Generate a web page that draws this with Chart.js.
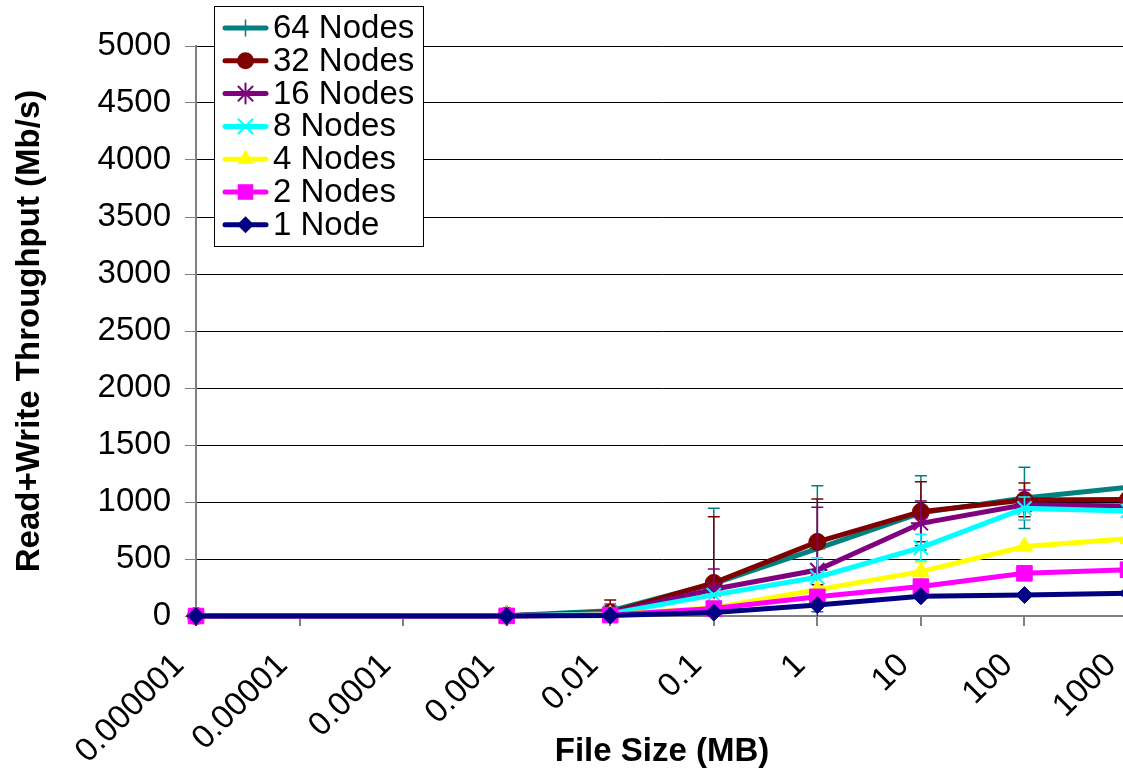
<!DOCTYPE html>
<html>
<head>
<meta charset="utf-8">
<script src="https://cdn.jsdelivr.net/npm/chart.js@4.4.1/dist/chart.umd.min.js"></script>
<style>
html,body{margin:0;padding:0;background:#fff;overflow:hidden;width:1123px;height:775px;}
canvas{display:block;}
</style>
</head>
<body>
<canvas id="c" width="1140" height="775"></canvas>
<script>
// ---- data ----
const fileSizes = [0.000001, 0.001, 0.01, 0.1, 1, 10, 100, 1000];
const xTickValues = [0.000001, 0.00001, 0.0001, 0.001, 0.01, 0.1, 1, 10, 100, 1000];
const xTickLabels = ['0.000001', '0.00001', '0.0001', '0.001', '0.01', '0.1', '1', '10', '100', '1000'];
const yTickValues = [0, 500, 1000, 1500, 2000, 2500, 3000, 3500, 4000, 4500, 5000];
const yTickLabels = ['0', '500', '1000', '1500', '2000', '2500', '3000', '3500', '4000', '4500', '5000'];

const seriesLabels = ['64 Nodes', '32 Nodes', '16 Nodes', '8 Nodes', '4 Nodes', '2 Nodes', '1 Node'];
const nodes64 = [0, 3, 45, 285, 590, 905, 1036, 1130];
const nodes32 = [0, 3, 30, 290, 650, 915, 1018, 1022];
const nodes16 = [0, 2, 25, 235, 403, 813, 975, 965];
const nodes8  = [0, 2, 20, 185, 340, 600, 944, 922];
const nodes4  = [0, 1, 12, 72, 230, 389, 610, 678];
const nodes2  = [0, 1, 8, 65, 168, 258, 374, 406];
const nodes1  = [0, 1, 4, 30, 96, 173, 184, 200];

const err64 = [0, 0, 60, 660, 553, 326, 268, 0];
const err32 = [0, 0, 110, 581, 376, 263, 148, 0];
const err16 = [0, 0, 40, 177, 550, 196, 130, 0];
const err8  = [0, 0, 30, 0, 170, 118, 100, 0];
const err4  = [0, 0, 0, 0, 0, 75, 0, 0];
const err2  = [0, 0, 0, 0, 0, 0, 0, 0];
const err1  = [0, 0, 0, 0, 0, 0, 0, 0];

// ---- styles ----
const FONT = "'Liberation Sans', Arial, sans-serif";
const FS = 33;
const styles = [
  {color:'#008080', point:'cross',    r:8,   bw:1.5},
  {color:'#800000', point:'circle',   r:8.5, bw:1},
  {color:'#800080', point:'star',     r:10,  bw:2},
  {color:'#00FFFF', point:'crossRot', r:10,  bw:2},
  {color:'#FFFF00', point:'triangle', r:9.5, bw:1},
  {color:'#FF00FF', point:'rect',     r:11,  bw:1},
  {color:'#000080', point:'rectRot',  r:8.5, bw:1}
];
const seriesValues = [nodes64, nodes32, nodes16, nodes8, nodes4, nodes2, nodes1];
const seriesErrors = [err64, err32, err16, err8, err4, err2, err1];

const datasets = seriesLabels.map((lab, i) => ({
  label: lab,
  data: fileSizes.map((x, j) => ({x: x, y: seriesValues[i][j]})),
  errors: seriesErrors[i],
  borderColor: styles[i].color,
  backgroundColor: styles[i].color,
  pointBackgroundColor: styles[i].color,
  pointBorderColor: styles[i].color,
  pointStyle: styles[i].point,
  pointRadius: styles[i].r,
  pointBorderWidth: styles[i].bw,
  borderWidth: 5,
  tension: 0,
  clip: false,
  order: 6 - i   // 1 Node drawn on top, 64 Nodes at the bottom
}));

function drawMarker(ctx, style, r, bw, color, x, y) {
  ctx.save();
  ctx.fillStyle = color; ctx.strokeStyle = color; ctx.lineWidth = bw;
  ctx.beginPath();
  if (style === 'circle') { ctx.arc(x, y, r, 0, Math.PI * 2); ctx.fill(); }
  else if (style === 'rect') { const s = r * Math.SQRT1_2; ctx.rect(x - s, y - s, 2 * s, 2 * s); ctx.fill(); }
  else if (style === 'rectRot') { ctx.moveTo(x, y - r); ctx.lineTo(x + r, y); ctx.lineTo(x, y + r); ctx.lineTo(x - r, y); ctx.closePath(); ctx.fill(); }
  else if (style === 'triangle') {
    ctx.moveTo(x, y - r); ctx.lineTo(x + r * 0.866, y + r * 0.5); ctx.lineTo(x - r * 0.866, y + r * 0.5); ctx.closePath(); ctx.fill();
  } else {
    const lines = [];
    if (style === 'cross' || style === 'star') { lines.push([0, -r, 0, r], [-r, 0, r, 0]); }
    if (style === 'crossRot' || style === 'star') { const d = r * Math.SQRT1_2; lines.push([-d, -d, d, d], [-d, d, d, -d]); }
    lines.forEach(l => { ctx.moveTo(x + l[0], y + l[1]); ctx.lineTo(x + l[2], y + l[3]); });
    ctx.stroke();
  }
  ctx.restore();
}

const errorBarPlugin = {
  id: 'errorBars',
  beforeDatasetDraw(chart, args) {
    const ds = chart.data.datasets[args.index];
    if (!ds.errors) return;
    const xs = chart.scales.x, ys = chart.scales.y, ctx = chart.ctx;
    const area = chart.chartArea;
    ctx.save();
    ctx.beginPath(); ctx.rect(area.left, area.top, area.right - area.left, area.bottom - area.top); ctx.clip();
    ctx.strokeStyle = ds.borderColor; ctx.lineWidth = 1.5;
    ds.data.forEach((p, j) => {
      const e = ds.errors[j];
      if (!e) return;
      const px = xs.getPixelForValue(p.x);
      const top = ys.getPixelForValue(p.y + e);
      const lowVal = p.y - e;
      const bot = ys.getPixelForValue(Math.max(lowVal, 0));
      ctx.beginPath();
      ctx.moveTo(px, top); ctx.lineTo(px, bot);
      ctx.moveTo(px - 6, top); ctx.lineTo(px + 6, top);
      if (lowVal > 0) { ctx.moveTo(px - 6, bot); ctx.lineTo(px + 6, bot); }
      ctx.stroke();
    });
    ctx.restore();
  }
};

const legendPlugin = {
  id: 'boxLegend',
  afterDraw(chart) {
    const ctx = chart.ctx;
    const bx = 214.5, by = 6.5, bw = 209, bh = 240;
    ctx.save();
    ctx.fillStyle = '#fff';
    ctx.fillRect(bx, by, bw, bh);
    ctx.strokeStyle = '#000'; ctx.lineWidth = 1;
    ctx.strokeRect(bx, by, bw, bh);
    ctx.font = FS + 'px ' + FONT;
    ctx.textBaseline = 'middle';
    ctx.textAlign = 'left';
    chart.data.datasets.forEach((ds, i) => {
      const cy = 28 + i * 32.8;
      ctx.strokeStyle = ds.borderColor; ctx.lineWidth = 5; ctx.lineCap = 'round';
      ctx.beginPath(); ctx.moveTo(225, cy); ctx.lineTo(266, cy); ctx.stroke();
      drawMarker(ctx, ds.pointStyle, ds.pointRadius, ds.pointBorderWidth, ds.borderColor, 245.5, cy);
      ctx.fillStyle = '#000';
      ctx.fillText(ds.label, 273, cy + 1);
    });
    ctx.restore();
  }
};

new Chart(document.getElementById('c'), {
  type: 'line',
  data: { datasets: datasets },
  plugins: [errorBarPlugin, legendPlugin],
  options: {
    responsive: false,
    animation: false,
    devicePixelRatio: 1,
    layout: { padding: { top: 46, right: 9, left: 0, bottom: 0 } },
    plugins: { legend: { display: false }, tooltip: { enabled: false } },
    scales: {
      x: {
        type: 'logarithmic',
        min: 0.000001,
        max: 1000,
        afterBuildTicks(scale) { scale.ticks = xTickValues.map(v => ({ value: v })); },
        afterFit(scale) { scale.height = 159; scale.paddingLeft = 0; scale.paddingRight = 0; },
        ticks: {
          autoSkip: false,
          minRotation: 45,
          maxRotation: 45,
          padding: 20,
          labelOffset: -17,
          color: '#000',
          font: { family: FONT, size: FS },
          callback: (v, i) => xTickLabels[i]
        },
        grid: { drawOnChartArea: false, drawTicks: true, tickLength: 10, tickColor: '#808080', lineWidth: 2 },
        border: { display: true, color: '#808080', width: 2 },
        title: {
          display: true,
          text: 'File Size (MB)',
          color: '#000',
          font: { family: FONT, size: FS, weight: 'bold' },
          padding: { top: 0, bottom: 3 }
        }
      },
      y: {
        type: 'linear',
        min: 0,
        max: 5000,
        afterBuildTicks(scale) { scale.ticks = yTickValues.map(v => ({ value: v })); },
        afterFit(scale) { scale.width = 196; scale.paddingTop = 0; scale.paddingBottom = 0; },
        ticks: {
          color: '#000',
          padding: 14,
          font: { family: FONT, size: FS },
          callback: (v, i) => yTickLabels[i]
        },
        grid: {
          color: ctx => (ctx.tick && ctx.tick.value === 0) ? 'rgba(0,0,0,0)' : '#000',
          lineWidth: 1,
          drawTicks: true,
          tickLength: 11,
          tickColor: '#808080'
        },
        border: { display: true, color: '#808080', width: 2 },
        title: {
          display: true,
          text: 'Read+Write Throughput (Mb/s)',
          color: '#000',
          font: { family: FONT, size: FS, weight: 'bold' },
          padding: { top: 10, bottom: 0 }
        }
      }
    }
  }
});
</script>
</body>
</html>
